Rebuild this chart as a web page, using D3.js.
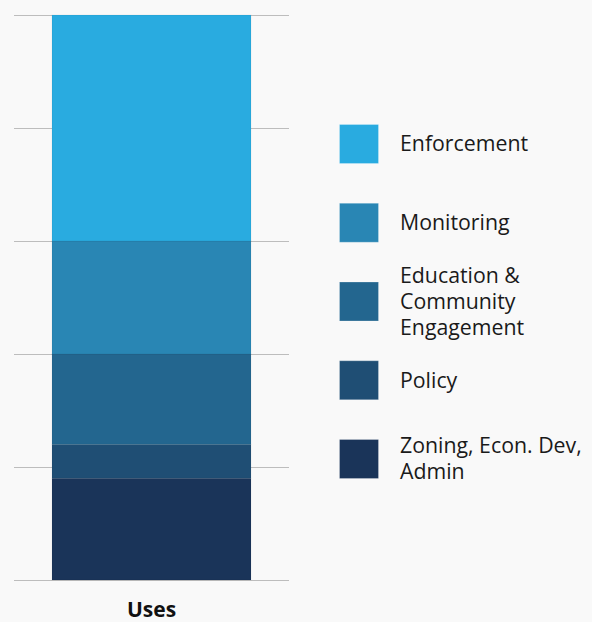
<!DOCTYPE html>
<html>
<head>
<meta charset="utf-8">
<script src="https://cdn.jsdelivr.net/npm/d3@7"></script>
<style>
  html, body { margin: 0; padding: 0; background: #f9f9f9; }
  svg { display: block; font-family: "Open Sans", "Noto Sans", sans-serif; }
</style>
</head>
<body>
<svg id="chart" width="592" height="622"></svg>
<script>
// Share of uses by category (percent), stacked bottom to top
const categories = ["Zoning, Econ. Dev, Admin", "Policy", "Education & Community Engagement", "Monitoring", "Enforcement"];
const values = [18, 6, 16, 20, 40];
const colors = ["#1a3459", "#1f4e74", "#23668f", "#2986b4", "#29abe0"];
const legendLines = [["Zoning, Econ. Dev,", "Admin"], ["Policy"], ["Education &", "Community", "Engagement"], ["Monitoring"], ["Enforcement"]];
const barLabel = "Uses";
const gridTicks = [0, 20, 40, 60, 80, 100];

const svg = d3.select("#chart");

const x = d3.scaleBand().domain([barLabel]).range([14, 289]).paddingInner(0).paddingOuter(0.191);
const y = d3.scaleLinear().domain([0, 100]).range([580, 15]);

// Gridlines
svg.append("g")
  .selectAll("line")
  .data(gridTicks)
  .join("line")
  .attr("x1", 14).attr("x2", 289)
  .attr("y1", d => y(d) + 0.5).attr("y2", d => y(d) + 0.5)
  .attr("stroke", "#bdbdbd").attr("stroke-width", 1);

// Stacked segments
let acc = 0;
const segs = values.map((v, i) => { const s = { y0: acc, y1: acc + v, color: colors[i] }; acc += v; return s; });

svg.append("g")
  .selectAll("rect")
  .data(segs)
  .join("rect")
  .attr("x", x(barLabel))
  .attr("width", x.bandwidth())
  .attr("y", d => y(d.y1))
  .attr("height", d => y(d.y0) - y(d.y1))
  .attr("fill", d => d.color)
  .attr("stroke", "rgba(0,0,0,0.06)")
  .attr("stroke-width", 1);

// Category label under the bar
svg.append("text")
  .attr("x", x(barLabel) + x.bandwidth() / 2)
  .attr("y", 616.5)
  .attr("text-anchor", "middle")
  .attr("font-size", 21)
  .attr("font-weight", 700)
  .attr("fill", "#111")
  .text(barLabel);

// Legend, top entry first
const legendOrder = d3.range(categories.length).reverse();
const ly = d3.scalePoint().domain(legendOrder).range([144, 459]);

const items = svg.append("g")
  .selectAll("g")
  .data(legendOrder)
  .join("g")
  .attr("transform", i => `translate(0,${ly(i)})`);

items.append("rect")
  .attr("x", 339.5).attr("y", -19.5)
  .attr("width", 39).attr("height", 39)
  .attr("fill", i => colors[i])
  .attr("stroke", "rgba(255,255,255,0.25)");

items.append("text")
  .attr("font-size", 21.3)
  .attr("fill", "#1a1a1a")
  .each(function (i) {
    const lines = legendLines[i];
    const lh = 26;
    const start = -((lines.length - 1) * lh) / 2;
    d3.select(this).selectAll("tspan")
      .data(lines)
      .join("tspan")
      .attr("x", 400)
      .attr("y", (d, k) => start + k * lh)
      .attr("dy", "0.35em")
      .text(d => d);
  });
</script>
</body>
</html>
